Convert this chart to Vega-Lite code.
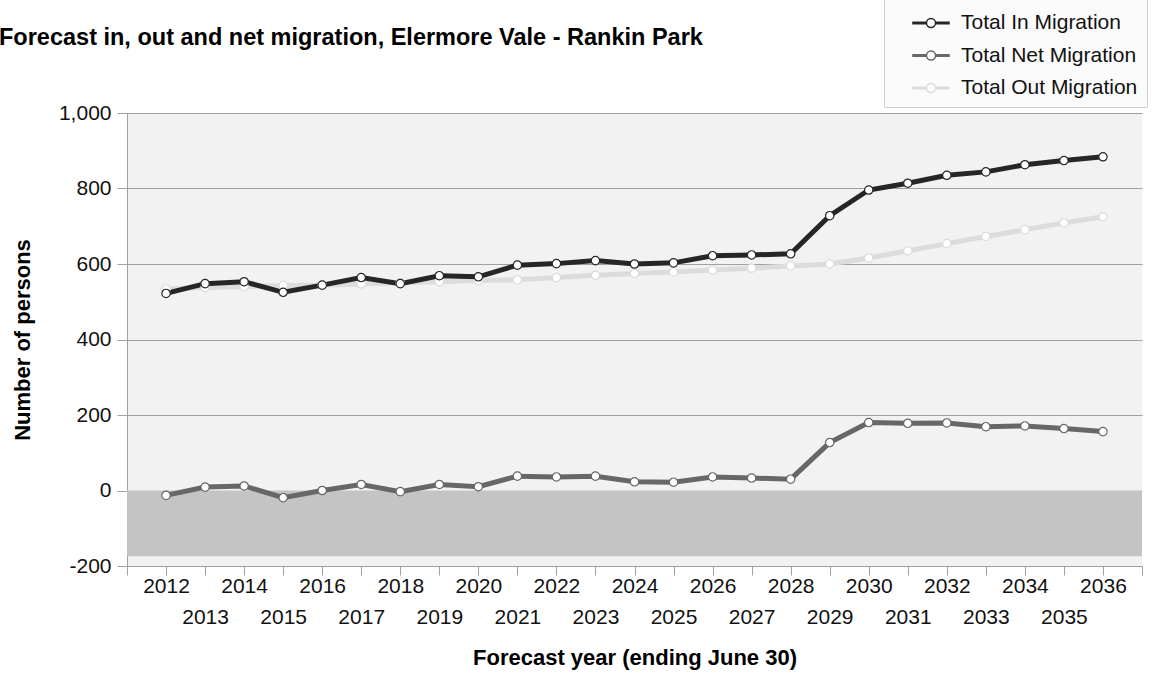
{
  "$schema": "https://vega.github.io/schema/vega-lite/v6.json",
  "width": 1015,
  "height": 453,
  "autosize": {"type": "none"},
  "padding": {"left": 127, "top": 113, "right": 28, "bottom": 107},
  "background": "white",
  "title": {
    "text": "Forecast in, out and net migration, Elermore Vale - Rankin Park",
    "anchor": "start",
    "frame": "group",
    "dx": -128,
    "offset": -55,
    "font": "Liberation Sans",
    "fontSize": 23.5,
    "fontWeight": "bold",
    "color": "#000000"
  },
  "config": {
    "view": {"fill": "#f2f2f2", "stroke": null},
    "font": "Liberation Sans"
  },
  "datasets": {
    "band": [{"x1": 2011, "x2": 2037, "y1": 0, "y2": -174}],
    "mig": [
      {"year": 2012, "series": "Total Out Migration", "value": 534},
      {"year": 2013, "series": "Total Out Migration", "value": 538},
      {"year": 2014, "series": "Total Out Migration", "value": 540},
      {"year": 2015, "series": "Total Out Migration", "value": 543},
      {"year": 2016, "series": "Total Out Migration", "value": 544},
      {"year": 2017, "series": "Total Out Migration", "value": 547},
      {"year": 2018, "series": "Total Out Migration", "value": 550},
      {"year": 2019, "series": "Total Out Migration", "value": 553},
      {"year": 2020, "series": "Total Out Migration", "value": 556},
      {"year": 2021, "series": "Total Out Migration", "value": 558},
      {"year": 2022, "series": "Total Out Migration", "value": 564},
      {"year": 2023, "series": "Total Out Migration", "value": 570},
      {"year": 2024, "series": "Total Out Migration", "value": 575},
      {"year": 2025, "series": "Total Out Migration", "value": 579},
      {"year": 2026, "series": "Total Out Migration", "value": 584},
      {"year": 2027, "series": "Total Out Migration", "value": 589},
      {"year": 2028, "series": "Total Out Migration", "value": 595},
      {"year": 2029, "series": "Total Out Migration", "value": 600},
      {"year": 2030, "series": "Total Out Migration", "value": 616},
      {"year": 2031, "series": "Total Out Migration", "value": 635},
      {"year": 2032, "series": "Total Out Migration", "value": 654},
      {"year": 2033, "series": "Total Out Migration", "value": 673},
      {"year": 2034, "series": "Total Out Migration", "value": 691},
      {"year": 2035, "series": "Total Out Migration", "value": 709},
      {"year": 2036, "series": "Total Out Migration", "value": 725},
      {"year": 2012, "series": "Total Net Migration", "value": -13},
      {"year": 2013, "series": "Total Net Migration", "value": 9},
      {"year": 2014, "series": "Total Net Migration", "value": 12},
      {"year": 2015, "series": "Total Net Migration", "value": -19},
      {"year": 2016, "series": "Total Net Migration", "value": 0},
      {"year": 2017, "series": "Total Net Migration", "value": 16},
      {"year": 2018, "series": "Total Net Migration", "value": -3},
      {"year": 2019, "series": "Total Net Migration", "value": 16},
      {"year": 2020, "series": "Total Net Migration", "value": 10},
      {"year": 2021, "series": "Total Net Migration", "value": 38},
      {"year": 2022, "series": "Total Net Migration", "value": 36},
      {"year": 2023, "series": "Total Net Migration", "value": 38},
      {"year": 2024, "series": "Total Net Migration", "value": 23},
      {"year": 2025, "series": "Total Net Migration", "value": 22},
      {"year": 2026, "series": "Total Net Migration", "value": 36},
      {"year": 2027, "series": "Total Net Migration", "value": 33},
      {"year": 2028, "series": "Total Net Migration", "value": 30},
      {"year": 2029, "series": "Total Net Migration", "value": 127},
      {"year": 2030, "series": "Total Net Migration", "value": 180},
      {"year": 2031, "series": "Total Net Migration", "value": 178},
      {"year": 2032, "series": "Total Net Migration", "value": 179},
      {"year": 2033, "series": "Total Net Migration", "value": 169},
      {"year": 2034, "series": "Total Net Migration", "value": 171},
      {"year": 2035, "series": "Total Net Migration", "value": 164},
      {"year": 2036, "series": "Total Net Migration", "value": 156},
      {"year": 2012, "series": "Total In Migration", "value": 522},
      {"year": 2013, "series": "Total In Migration", "value": 548},
      {"year": 2014, "series": "Total In Migration", "value": 553},
      {"year": 2015, "series": "Total In Migration", "value": 525},
      {"year": 2016, "series": "Total In Migration", "value": 544},
      {"year": 2017, "series": "Total In Migration", "value": 564},
      {"year": 2018, "series": "Total In Migration", "value": 548},
      {"year": 2019, "series": "Total In Migration", "value": 569},
      {"year": 2020, "series": "Total In Migration", "value": 566},
      {"year": 2021, "series": "Total In Migration", "value": 597},
      {"year": 2022, "series": "Total In Migration", "value": 601},
      {"year": 2023, "series": "Total In Migration", "value": 609},
      {"year": 2024, "series": "Total In Migration", "value": 600},
      {"year": 2025, "series": "Total In Migration", "value": 603},
      {"year": 2026, "series": "Total In Migration", "value": 622},
      {"year": 2027, "series": "Total In Migration", "value": 624},
      {"year": 2028, "series": "Total In Migration", "value": 627},
      {"year": 2029, "series": "Total In Migration", "value": 728},
      {"year": 2030, "series": "Total In Migration", "value": 796},
      {"year": 2031, "series": "Total In Migration", "value": 814},
      {"year": 2032, "series": "Total In Migration", "value": 835},
      {"year": 2033, "series": "Total In Migration", "value": 844},
      {"year": 2034, "series": "Total In Migration", "value": 863},
      {"year": 2035, "series": "Total In Migration", "value": 874},
      {"year": 2036, "series": "Total In Migration", "value": 884}
    ]
  },
  "encoding": {
    "x": {
      "type": "quantitative",
      "scale": {"domain": [2011, 2037], "nice": false, "zero": false},
      "axis": {
        "title": "Forecast year (ending June 30)",
        "values": [2011, 2012, 2013, 2014, 2015, 2016, 2017, 2018, 2019, 2020, 2021, 2022, 2023, 2024, 2025, 2026, 2027, 2028, 2029, 2030, 2031, 2032, 2033, 2034, 2035, 2036, 2037],
        "format": "d",
        "labelExpr": "datum.value == 2011 || datum.value == 2037 ? '' : (datum.value % 2 == 0 ? datum.label : ['', datum.label])",
        "labelOverlap": false,
        "labelFlush": false,
        "labelBound": false,
        "labelFont": "Liberation Sans",
        "labelFontSize": 21,
        "labelColor": "#111111",
        "labelPadding": 0,
        "labelLineHeight": 31,
        "labelBaseline": "top",
        "tickSize": 9,
        "tickColor": "#a0a0a0",
        "domainColor": "#a0a0a0",
        "grid": false,
        "titleFont": "Liberation Sans",
        "titleFontSize": 22,
        "titleFontWeight": "bold",
        "titleColor": "#000000",
        "titlePadding": 20
      }
    }
  },
  "layer": [
    {
      "data": {"name": "band"},
      "mark": {"type": "rect", "color": "#c4c4c4"},
      "encoding": {
        "x": {"field": "x1", "type": "quantitative"},
        "x2": {"field": "x2"},
        "y": {
          "field": "y1",
          "type": "quantitative",
          "scale": {"domain": [-200, 1000], "nice": false},
          "axis": {
            "title": "Number of persons",
            "values": [-200, 0, 200, 400, 600, 800, 1000],
            "format": ",d",
            "labelExpr": "replace(datum.label, '\u2212', '-')",
            "labelFont": "Liberation Sans",
            "labelFontSize": 21,
            "labelColor": "#111111",
            "labelPadding": 6,
            "tickSize": 10,
            "tickColor": "#a0a0a0",
            "domainColor": "#a0a0a0",
            "grid": true,
            "gridColor": "#a0a0a0",
            "titleFont": "Liberation Sans",
            "titleFontSize": 22,
            "titleFontWeight": "bold",
            "titleColor": "#000000",
            "titlePadding": 24
          }
        },
        "y2": {"field": "y2"}
      }
    },
    {
      "data": {"name": "mig"},
      "transform": [{"filter": "datum.series == 'Total Out Migration'"}],
      "mark": {"type": "line", "strokeWidth": 5},
      "encoding": {
        "x": {"field": "year", "type": "quantitative"},
        "y": {"field": "value", "type": "quantitative"},
        "color": {"field": "series", "type": "nominal"}
      }
    },
    {
      "data": {"name": "mig"},
      "transform": [{"filter": "datum.series != 'Total Out Migration'"}],
      "mark": {"type": "line", "strokeWidth": 5},
      "encoding": {
        "x": {"field": "year", "type": "quantitative"},
        "y": {"field": "value", "type": "quantitative"},
        "color": {"field": "series", "type": "nominal"}
      }
    },
    {
      "data": {"name": "mig"},
      "mark": {"type": "point", "filled": false, "fill": "white", "fillOpacity": 1, "opacity": 1, "size": 70, "strokeWidth": 1.2},
      "encoding": {
        "x": {"field": "year", "type": "quantitative"},
        "y": {"field": "value", "type": "quantitative"},
        "color": {
          "field": "series",
          "type": "nominal",
          "scale": {
            "domain": ["Total In Migration", "Total Net Migration", "Total Out Migration"],
            "range": ["#262626", "#676767", "#dcdcdc"]
          },
          "legend": {
            "title": null,
            "orient": "none",
            "legendX": 757,
            "legendY": -118,
            "padding": 9,
            "symbolOffset": 19,
            "fillColor": "#fbfbfb",
            "strokeColor": "#d0d0d0",
            "labelFont": "Liberation Sans",
            "labelFontSize": 21,
            "labelColor": "#111111",
            "labelOffset": 11,
            "labelLimit": 400,
            "symbolSize": 1296,
            "rowPadding": 3.5,
            "symbolType": "M-1,-0.04H-0.25V0.04H-1Z M0.25,-0.04H1V0.04H0.25Z M0.25,0A0.25,0.25,0,1,1,-0.25,0A0.25,0.25,0,1,1,0.25,0Z"
          }
        }
      }
    }
  ]
}
